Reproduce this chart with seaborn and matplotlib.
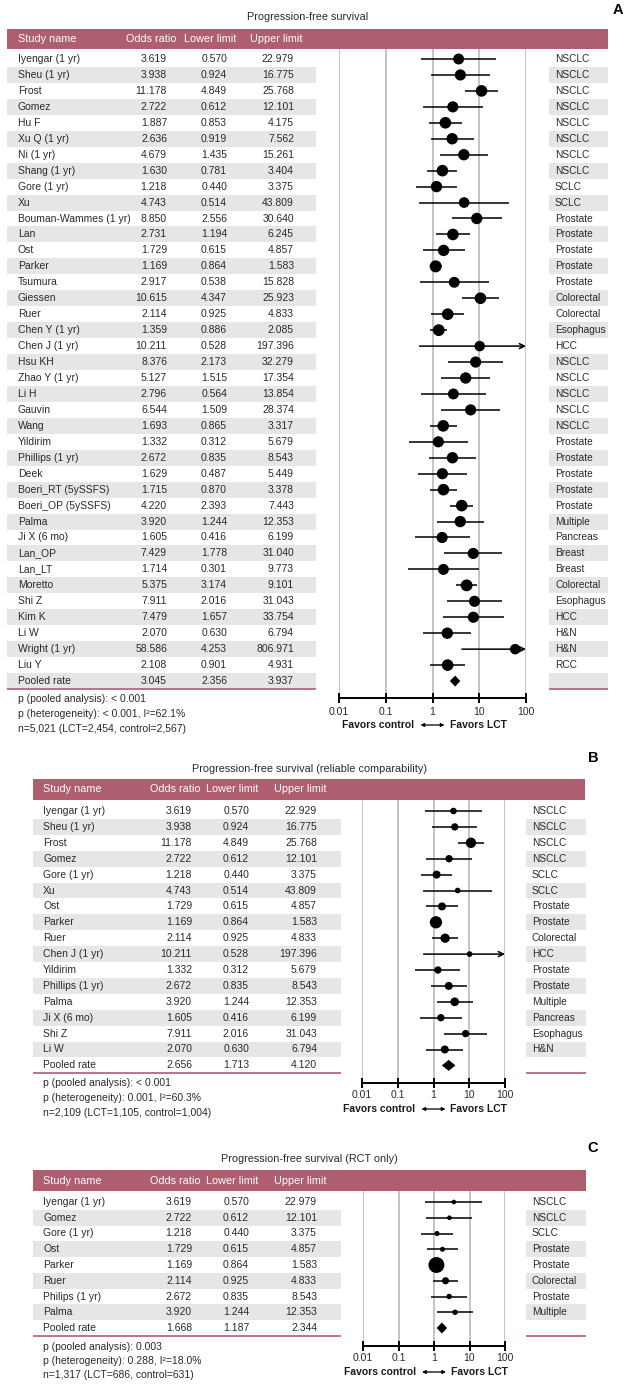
import numpy as np
import pandas as pd
import matplotlib
matplotlib.use("Agg")
import matplotlib.pyplot as plt
import seaborn as sns
from matplotlib.patches import Rectangle
from matplotlib.ticker import NullLocator

sns.set_theme(style="white")
plt.rcParams["font.family"] = ["Liberation Sans Narrow", "Liberation Sans", "DejaVu Sans"]

# ---------------- data ----------------
tick_vals = [0.01, 0.1, 1, 10, 100]
tick_labels = ["0.01", "0.1", "1", "10", "100"]
col_headers = ["Study name", "Odds ratio", "Lower limit", "Upper limit"]

title_A = "Progression-free survival"
names_A = ["Iyengar (1 yr)", "Sheu (1 yr)", "Frost", "Gomez", "Hu F", "Xu Q (1 yr)", "Ni (1 yr)",
           "Shang (1 yr)", "Gore (1 yr)", "Xu", "Bouman-Wammes (1 yr)", "Lan", "Ost", "Parker",
           "Tsumura", "Giessen", "Ruer", "Chen Y (1 yr)", "Chen J (1 yr)", "Hsu KH", "Zhao Y (1 yr)",
           "Li H", "Gauvin", "Wang", "Yildirim", "Phillips (1 yr)", "Deek", "Boeri_RT (5ySSFS)",
           "Boeri_OP (5ySSFS)", "Palma", "Ji X (6 mo)", "Lan_OP", "Lan_LT", "Moretto", "Shi Z",
           "Kim K", "Li W", "Wright (1 yr)", "Liu Y"]
or_A = [3.619, 3.938, 11.178, 2.722, 1.887, 2.636, 4.679, 1.630, 1.218, 4.743, 8.850, 2.731, 1.729,
        1.169, 2.917, 10.615, 2.114, 1.359, 10.211, 8.376, 5.127, 2.796, 6.544, 1.693, 1.332, 2.672,
        1.629, 1.715, 4.220, 3.920, 1.605, 7.429, 1.714, 5.375, 7.911, 7.479, 2.070, 58.586, 2.108]
lo_A = [0.570, 0.924, 4.849, 0.612, 0.853, 0.919, 1.435, 0.781, 0.440, 0.514, 2.556, 1.194, 0.615,
        0.864, 0.538, 4.347, 0.925, 0.886, 0.528, 2.173, 1.515, 0.564, 1.509, 0.865, 0.312, 0.835,
        0.487, 0.870, 2.393, 1.244, 0.416, 1.778, 0.301, 3.174, 2.016, 1.657, 0.630, 4.253, 0.901]
hi_A = [22.979, 16.775, 25.768, 12.101, 4.175, 7.562, 15.261, 3.404, 3.375, 43.809, 30.640, 6.245,
        4.857, 1.583, 15.828, 25.923, 4.833, 2.085, 197.396, 32.279, 17.354, 13.854, 28.374, 3.317,
        5.679, 8.543, 5.449, 3.378, 7.443, 12.353, 6.199, 31.040, 9.773, 9.101, 31.043, 33.754,
        6.794, 806.971, 4.931]
cancer_A = ["NSCLC", "NSCLC", "NSCLC", "NSCLC", "NSCLC", "NSCLC", "NSCLC", "NSCLC", "SCLC", "SCLC",
            "Prostate", "Prostate", "Prostate", "Prostate", "Prostate", "Colorectal", "Colorectal",
            "Esophagus", "HCC", "NSCLC", "NSCLC", "NSCLC", "NSCLC", "NSCLC", "Prostate", "Prostate",
            "Prostate", "Prostate", "Prostate", "Multiple", "Pancreas", "Breast", "Breast",
            "Colorectal", "Esophagus", "HCC", "H&N", "H&N", "RCC"]
weight_A = [2.4, 2.5, 2.7, 2.5, 2.7, 2.6, 2.6, 2.7, 2.6, 2.3, 2.6, 2.7, 2.6, 2.9, 2.4, 2.7, 2.7, 2.8,
            2.2, 2.5, 2.6, 2.4, 2.5, 2.7, 2.5, 2.6, 2.5, 2.7, 2.7, 2.6, 2.5, 2.5, 2.4, 2.8, 2.5, 2.5,
            2.6, 2.2, 2.7]
pooled_A = [3.045, 2.356, 3.937]
footer_A = ["p (pooled analysis): < 0.001", "p (heterogeneity): < 0.001, I\u00b2=62.1%",
            "n=5,021 (LCT=2,454, control=2,567)"]

title_B = "Progression-free survival (reliable comparability)"
names_B = ["Iyengar (1 yr)", "Sheu (1 yr)", "Frost", "Gomez", "Gore (1 yr)", "Xu", "Ost", "Parker",
           "Ruer", "Chen J (1 yr)", "Yildirim", "Phillips (1 yr)", "Palma", "Ji X (6 mo)", "Shi Z", "Li W"]
or_B = [3.619, 3.938, 11.178, 2.722, 1.218, 4.743, 1.729, 1.169, 2.114, 10.211, 1.332, 2.672, 3.920,
        1.605, 7.911, 2.070]
lo_B = [0.570, 0.924, 4.849, 0.612, 0.440, 0.514, 0.615, 0.864, 0.925, 0.528, 0.312, 0.835, 1.244,
        0.416, 2.016, 0.630]
hi_B = [22.929, 16.775, 25.768, 12.101, 3.375, 43.809, 4.857, 1.583, 4.833, 197.396, 5.679, 8.543,
        12.353, 6.199, 31.043, 6.794]
cancer_B = ["NSCLC", "NSCLC", "NSCLC", "NSCLC", "SCLC", "SCLC", "Prostate", "Prostate", "Colorectal",
            "HCC", "Prostate", "Prostate", "Multiple", "Pancreas", "Esophagus", "H&N"]
weight_B = [4, 5, 10, 5, 6, 3, 6, 14, 8, 3, 5, 6, 7, 5, 5, 6]
pooled_B = [2.656, 1.713, 4.120]
footer_B = ["p (pooled analysis): < 0.001", "p (heterogeneity): 0.001, I\u00b2=60.3%",
            "n=2,109 (LCT=1,105, control=1,004)"]

title_C = "Progression-free survival (RCT only)"
names_C = ["Iyengar (1 yr)", "Gomez", "Gore (1 yr)", "Ost", "Parker", "Ruer", "Philips (1 yr)", "Palma"]
or_C = [3.619, 2.722, 1.218, 1.729, 1.169, 2.114, 2.672, 3.920]
lo_C = [0.570, 0.612, 0.440, 0.615, 0.864, 0.925, 0.835, 1.244]
hi_C = [22.979, 12.101, 3.375, 4.857, 1.583, 4.833, 8.543, 12.353]
cancer_C = ["NSCLC", "NSCLC", "SCLC", "Prostate", "Prostate", "Colorectal", "Prostate", "Multiple"]
weight_C = [5, 5, 6, 6, 60, 12, 7, 7]
pooled_C = [1.668, 1.187, 2.344]
footer_C = ["p (pooled analysis): 0.003", "p (heterogeneity): 0.288, I\u00b2=18.0%",
            "n=1,317 (LCT=686, control=631)"]

pooled_label = "Pooled rate"
fav_left = "Favors control"
fav_right = "Favors LCT"

# ---------------- layout (pixels) ----------------
W, H = 631, 1385
ROSE = "#AF5E6F"
SHADE = "#E6E6E8"
TXT = "#2a2a2a"
GRID = "#b4b4b4"
FS = 7.5

layout_A = dict(letter="A", letter_xy=(618, 10), title_y=17, hdr=(29, 49), bar=(7, 608),
                row0=59, rowh=15.95, table=(7, 316), plot=(339, 526), axis_y=698,
                cancer=(549, 608), cols=(18, 167, 227, 294), footer_y=(699, 714, 729),
                fav_y=725, smax=75, pad=3.0)
layout_B = dict(letter="B", letter_xy=(593, 758), title_y=769, hdr=(779, 800), bar=(33, 585),
                row0=811, rowh=15.9, table=(33, 341), plot=(362, 505), axis_y=1083,
                cancer=(526, 586), cols=(43, 192, 249, 317), footer_y=(1083, 1098, 1113),
                fav_y=1109, smax=78, pad=1.2)
layout_C = dict(letter="C", letter_xy=(593, 1148), title_y=1159, hdr=(1170, 1191), bar=(33, 586),
                row0=1202, rowh=15.75, table=(33, 341), plot=(363, 505), axis_y=1346,
                cancer=(526, 586), cols=(43, 192, 249, 317), footer_y=(1347, 1361, 1375),
                fav_y=1372, smax=132, pad=1.2)

fig = plt.figure(figsize=(W / 100, H / 100), dpi=100)
fig.patch.set_facecolor("white")
bg = fig.add_axes([0, 0, 1, 1])
bg.set_xlim(0, W)
bg.set_ylim(H, 0)
bg.axis("off")


def draw_panel(L, title, names, ors, los, his, cancers, weights, pooled, footer):
    n = len(names) + 1
    rowh = L["rowh"]
    tx0, tx1 = L["table"]
    cx0, cx1 = L["cancer"]
    px0, px1 = L["plot"]
    hdr_t, hdr_b = L["hdr"]
    c_name, c_or, c_lo, c_hi = L["cols"]

    # title & letter
    bg.text((L["bar"][0] + L["bar"][1]) / 2, L["title_y"], title, ha="center", va="center",
            fontsize=FS + 0.3, color=TXT)
    bg.text(*L["letter_xy"], L["letter"], ha="center", va="center", fontsize=10.5,
            fontweight="bold", color="black")

    # header bar
    bg.add_patch(Rectangle((L["bar"][0], hdr_t), L["bar"][1] - L["bar"][0], hdr_b - hdr_t,
                           color=ROSE, lw=0, zorder=1))
    hy = (hdr_t + hdr_b) / 2
    bg.text(c_name, hy, col_headers[0], ha="left", va="center", color="white", fontsize=FS + 0.3)
    for x, lab in zip((c_or, c_lo, c_hi), col_headers[1:]):
        bg.text(x + 9, hy, lab, ha="right", va="center", color="white", fontsize=FS + 0.3)

    # rows
    all_names = names + [pooled_label]
    all_or = ors + [pooled[0]]
    all_lo = los + [pooled[1]]
    all_hi = his + [pooled[2]]
    all_ca = cancers + [""]
    for i in range(n):
        y = L["row0"] + i * rowh
        if i % 2 == 1:
            bg.add_patch(Rectangle((tx0, y - rowh / 2), tx1 - tx0, rowh, color=SHADE, lw=0, zorder=0))
            bg.add_patch(Rectangle((cx0, y - rowh / 2), cx1 - cx0, rowh, color=SHADE, lw=0, zorder=0))
        bg.text(c_name, y, all_names[i], ha="left", va="center", fontsize=FS, color=TXT)
        bg.text(c_or, y, f"{all_or[i]:.3f}", ha="right", va="center", fontsize=FS, color=TXT)
        bg.text(c_lo, y, f"{all_lo[i]:.3f}", ha="right", va="center", fontsize=FS, color=TXT)
        bg.text(c_hi, y, f"{all_hi[i]:.3f}", ha="right", va="center", fontsize=FS, color=TXT)
        if all_ca[i]:
            bg.text(cx0 + 6, y, all_ca[i], ha="left", va="center", fontsize=FS - 0.2, color=TXT)

    # footer lines
    yb = L["row0"] + (n - 1) * rowh + rowh / 2
    bg.plot([tx0, tx1], [yb, yb], color=ROSE, lw=1.2, solid_capstyle="butt")
    bg.plot([cx0, cx1], [yb, yb], color=ROSE, lw=1.2, solid_capstyle="butt")
    for fy, ftxt in zip(L["footer_y"], footer):
        bg.text(c_name, fy, ftxt, ha="left", va="center", fontsize=FS, color=TXT)

    # favors labels
    x1 = (px0 + px1) / 2
    bg.text(x1 - 18, L["fav_y"], fav_left, ha="right", va="center", fontsize=FS,
            color="#1a1a1a", fontweight="bold")
    bg.text(x1 + 17, L["fav_y"], fav_right, ha="left", va="center", fontsize=FS,
            color="#1a1a1a", fontweight="bold")
    bg.annotate("", xy=(x1 + 12, L["fav_y"]), xytext=(x1 - 12, L["fav_y"]),
                arrowprops=dict(arrowstyle="<|-|>", lw=0.9, color="black", mutation_scale=5,
                                shrinkA=0, shrinkB=0))

    # forest axes
    ax = fig.add_axes([px0 / W, 1 - L["axis_y"] / H, (px1 - px0) / W, (L["axis_y"] - hdr_b) / H])
    ax.set_xscale("log")
    ax.patch.set_alpha(0)
    ytop = (hdr_b - L["row0"]) / rowh
    ybot = (L["axis_y"] - L["row0"]) / rowh

    df = pd.DataFrame({"odds": ors, "row": np.arange(len(ors)), "w": weights,
                       "lo": los, "hi": his})
    for r in df.itertuples():
        if r.hi > tick_vals[-1]:
            ax.annotate("", xy=(tick_vals[-1], r.row), xytext=(r.lo, r.row),
                        arrowprops=dict(arrowstyle="->", lw=1.1, color="black",
                                        mutation_scale=9, shrinkA=0, shrinkB=0), zorder=2)
        else:
            ax.hlines(r.row, r.lo, r.hi, color="black", lw=1.1, zorder=2)
    sns.scatterplot(data=df, x="odds", y="row", size="w", sizes=(0, L["smax"]),
                    size_norm=(0, max(weights)), color="black", linewidth=0, legend=False,
                    ax=ax, zorder=3)
    pr = n - 1
    dh = 5.5 / rowh
    ax.fill([pooled[1], pooled[0], pooled[2], pooled[0]], [pr, pr - dh, pr, pr + dh],
            color="black", lw=0, zorder=3)

    ax.set_xlim(tick_vals[0], tick_vals[-1])
    ax.set_ylim(ybot, ytop)
    ax.set_xticks(tick_vals)
    ax.set_xticklabels(tick_labels)
    ax.xaxis.set_minor_locator(NullLocator())
    ax.set_yticks([])
    ax.set_xlabel("")
    ax.set_ylabel("")
    ax.grid(True, axis="x", which="major", color=GRID, lw=1.1, zorder=0)
    ax.set_axisbelow(True)
    for s in ("top", "right", "left"):
        ax.spines[s].set_visible(False)
    ax.spines["bottom"].set_color("black")
    ax.spines["bottom"].set_linewidth(1.4)
    ax.tick_params(axis="x", direction="inout", length=7, width=1.4, color="black",
                   labelcolor=TXT, labelsize=FS, pad=L["pad"], bottom=True)


draw_panel(layout_A, title_A, names_A, or_A, lo_A, hi_A, cancer_A, weight_A, pooled_A, footer_A)
draw_panel(layout_B, title_B, names_B, or_B, lo_B, hi_B, cancer_B, weight_B, pooled_B, footer_B)
draw_panel(layout_C, title_C, names_C, or_C, lo_C, hi_C, cancer_C, weight_C, pooled_C, footer_C)

fig.savefig("out.png", dpi=100, facecolor="white")
